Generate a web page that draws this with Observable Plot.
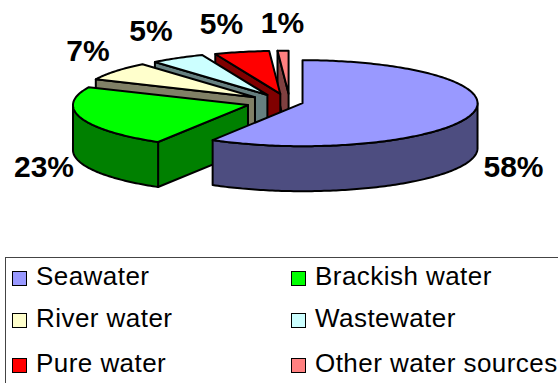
<!DOCTYPE html>
<html>
<head>
<meta charset="utf-8">
<script src="https://cdn.jsdelivr.net/npm/d3@7"></script>
<script src="https://cdn.jsdelivr.net/npm/@observablehq/plot@0.6"></script>
<style>
  html, body { margin: 0; padding: 0; background: #fff; width: 558px; height: 383px; overflow: hidden; }
  #legend {
    margin: 7px 0 0 5px; height: 126px; box-sizing: border-box;
    border-top: 1px solid #444; border-left: 1px solid #444;
    display: grid; grid-template-columns: 279px 260px; grid-template-rows: 42px 45px 45px;
    font: 26px "Liberation Sans", Arial, sans-serif; letter-spacing: 0.45px; color: #000; white-space: nowrap;
  }
  .item { display: flex; align-items: baseline; padding-left: 6px; line-height: 36px; }
  .swatch { width: 13px; height: 13px; border: 1.5px solid #000; margin-right: 9px; flex: none; position: relative; top: 1px; }
</style>
</head>
<body>
<div id="chart"></div>
<div id="legend"></div>
<script>
// Water sources and their rounded percentage shares.
const sources = ["Seawater", "Brackish water", "River water", "Wastewater", "Pure water", "Other water sources"];
const shares = [58, 23, 7, 5, 5, 1];
const shareLabels = ["58%", "23%", "7%", "5%", "5%", "1%"];

// Face colours for the top surface and the darker walls of each slice.
const topColors = ["#9999FF", "#00FF00", "#FFFFCC", "#CCFFFF", "#FF0000", "#FF8080"];
const wallColors = ["#4D4D80", "#008000", "#808066", "#668080", "#800000", "#804040"];

// Pie projection: tilted ellipse, wall depth and how far each slice is pulled out.
const width = 558, height = 250;
const pieX = 289.5, pieY = 102, radiusX = 175, radiusY = 43, depth = 45, tiltY = 0.2;
const explode = [13, 44, 44, 44, 44, 44];

// Where the percentage labels sit.
const labelX = [513, 43.5, 87.5, 150.5, 221, 282];
const labelY = [167, 167, 50.5, 31, 24, 23];

const total = d3.sum(shares);
const rad = (a) => (a * Math.PI) / 180;

// Turn the shares into slice angles, clockwise from twelve o'clock.
let running = 0;
const slices = shares.map((share, i) => {
  const start = running;
  const end = (running += (share / total) * 360);
  const mid = rad((start + end) / 2);
  return {
    start, end,
    cx: pieX + explode[i] * Math.sin(mid),
    cy: pieY - explode[i] * tiltY * Math.cos(mid),
    top: topColors[i], wall: wallColors[i]
  };
});

const rim = (s, a, drop = 0) => ({
  x: s.cx + radiusX * Math.sin(rad(a)),
  y: s.cy - radiusY * Math.cos(rad(a)) + drop
});
const arc = (s, a0, a1, drop = 0) => {
  const n = Math.max(1, Math.ceil(Math.abs(a1 - a0)));
  return d3.range(n + 1).map((k) => rim(s, a0 + ((a1 - a0) * k) / n, drop));
};

const face = (points, fill) =>
  Plot.line(points, {x: "x", y: "y", fill, stroke: "#000", strokeWidth: 2, strokeLinejoin: "round", curve: "linear-closed"});

// Paint from the back of the pie to the front so nearer faces cover farther ones.
const faces = [];
[...slices].reverse().forEach((s) => {
  const apex = {x: s.cx, y: s.cy};
  if (s.start >= 180) {
    const edge = rim(s, s.start);
    faces.push(face([apex, edge, {x: edge.x, y: edge.y + depth}, {x: apex.x, y: apex.y + depth}], s.wall));
  }
  const a0 = Math.max(s.start, 90), a1 = Math.min(s.end, 270);
  if (a1 > a0) faces.push(face([...arc(s, a0, a1), ...arc(s, a1, a0, depth)], s.wall));
  faces.push(face([apex, ...arc(s, s.start, s.end)], s.top));
});

const labelRows = shareLabels.map((text, i) => ({text, x: labelX[i], y: labelY[i]}));

const plot = Plot.plot({
  width, height,
  margin: 0,
  x: {domain: [0, width], range: [0, width], axis: null},
  y: {domain: [0, height], range: [0, height], axis: null},
  style: {background: "transparent", display: "block"},
  marks: [
    ...faces,
    Plot.text(labelRows, {
      x: "x", y: "y", text: "text", textAnchor: "middle", lineAnchor: "middle",
      fontFamily: "Liberation Sans", fontWeight: "bold", fontSize: 30, fill: "#000"
    })
  ]
});
document.getElementById("chart").append(plot);

// Two-column legend below the pie.
const legend = d3.select("#legend");
sources.forEach((name, i) => {
  const item = legend.append("div").attr("class", "item");
  item.append("span").attr("class", "swatch").style("background", topColors[i]);
  item.append("span").text(name);
});
</script>
</body>
</html>
